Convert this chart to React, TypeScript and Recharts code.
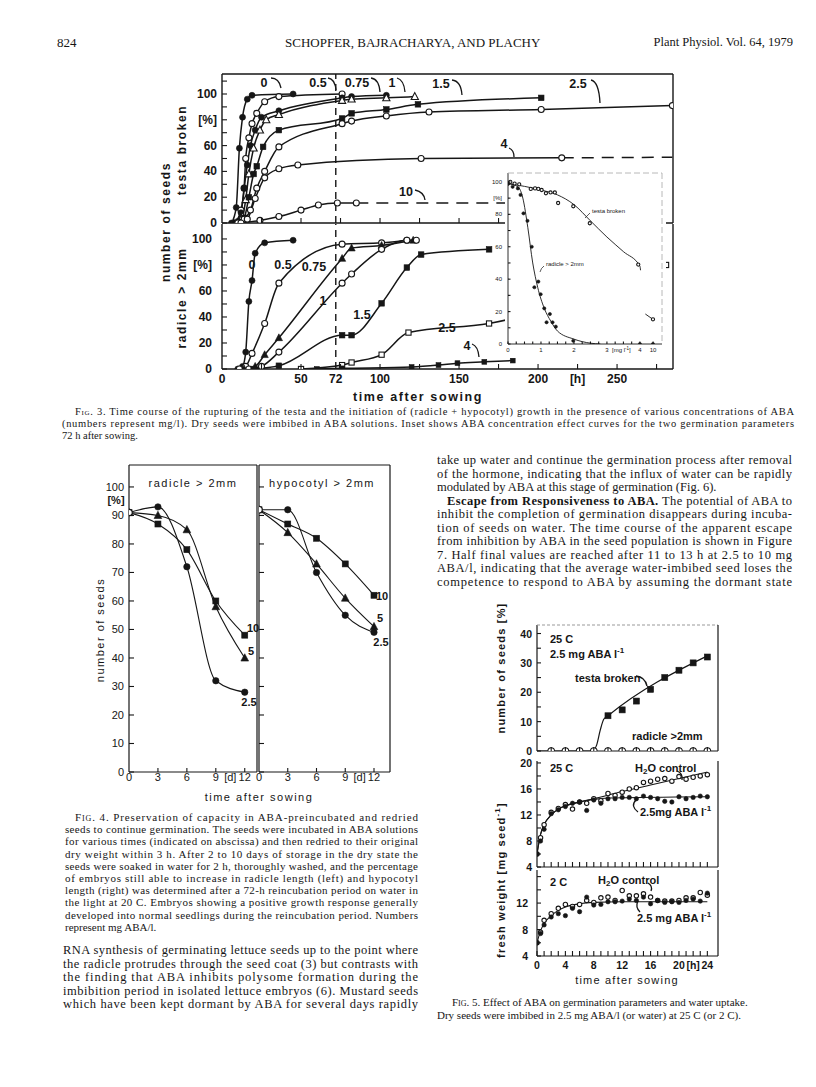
import React from 'react';
import { LineChart, Line, XAxis, YAxis, ReferenceLine } from 'recharts';

const INK = '#161616';
const SERIF = '"Liberation Serif", "Times New Roman", serif';
const SANS = '"Liberation Sans", "DejaVu Sans", sans-serif';

type Pt = [number, number];
const xy = (a: Pt[]) => a.map(([x, y]) => ({ x, y }));
const range = (a: number, b: number, s: number) => {
  const out: number[] = [];
  for (let v = a; v <= b + 1e-9; v += s) out.push(Math.round(v * 100) / 100);
  return out;
};

// Fig. 3 upper panel: testa broken [%] vs hours after sowing, per mg ABA/l
const testa0: Pt[] = [[6, 0], [9, 12], [11, 58], [13, 82], [16, 96], [19, 99], [45, 100]];
const testa05: Pt[] = [[8, 0], [12, 10], [14, 27], [15, 50], [17, 66], [19, 77], [22, 85], [27, 94], [36, 98], [76, 100]];
const testa075: Pt[] = [[8, 0], [12, 8], [14, 27], [16, 45], [18, 60], [21, 72], [25, 82], [36, 87], [76, 97], [82, 98], [104, 99]];
const testa1: Pt[] = [[9, 0], [13, 5], [15, 18], [17, 38], [20, 58], [24, 72], [28, 80], [36, 84], [76, 95], [82, 96], [104, 97], [122, 98]];
const testa15: Pt[] = [[9, 0], [14, 4], [17, 20], [20, 38], [22, 44], [26, 59], [36, 72], [76, 81], [82, 85], [104, 88], [124, 92], [202, 97]];
const testa25: Pt[] = [[10, 0], [14, 3], [18, 10], [22, 27], [27, 40], [36, 59], [76, 77], [82, 79], [104, 83], [131, 86], [202, 88], [285, 91]];
const testa4: Pt[] = [[10, 0], [16, 3], [21, 19], [27, 35], [36, 42], [48, 45], [126, 50], [215, 50.5]];
const testa4Tail: Pt[] = [[215, 50.5], [285, 51]];
const testa10: Pt[] = [[12, 0], [24, 2], [36, 5], [50, 10], [61, 14], [73, 15.5], [85, 15.5]];
const testa10Tail: Pt[] = [[85, 15.5], [180, 15.5]];

// Fig. 3 lower panel: radicle > 2mm [%]
const rad0: Pt[] = [[10, 0], [13, 2], [15, 13], [17, 52], [19, 68], [21, 89], [27, 97], [45, 99]];
const rad05: Pt[] = [[11, 0], [15, 2], [19, 12], [27, 35], [36, 66], [76, 96], [101, 97], [117, 99]];
const rad075: Pt[] = [[14, 0], [21, 2], [27, 11], [36, 24], [76, 85], [82, 93], [101, 95], [121, 99]];
const rad1: Pt[] = [[17, 0], [25, 2], [36, 13], [76, 66], [82, 73], [101, 92], [117, 99], [123, 99]];
const rad15: Pt[] = [[20, 0], [36, 2.5], [76, 26], [82, 26], [101, 50.5], [117, 78], [126, 88], [169, 92]];
const rad25: Pt[] = [[50, 0], [76, 3], [82, 5], [101, 11], [118, 28], [169, 35], [281, 80]];
const rad4: Pt[] = [[60, 0], [76, 0.5], [120, 1.5], [137, 3], [149, 4.5], [166, 5.5], [184, 6.5]];

// Fig. 3 inset: % at 72 h vs mg ABA/l (axis broken between 4 and 10)
const insetTestaPts: Pt[] = [[0, 99], [0.07, 100], [0.2, 99], [0.34, 98.5], [0.69, 95.7], [0.82, 96], [0.92, 95.7], [1.02, 95], [1.15, 93], [1.29, 93.5], [1.42, 93.5], [1.52, 87], [1.98, 85], [2.48, 74.5], [3.95, 49], [10, 15.2]];
const insetTestaFit: Pt[] = [[0, 99], [1, 95], [1.5, 92], [2, 86], [2.5, 76], [3, 66], [3.5, 57], [4, 48], [4.3, 45.5]];
const insetTestaTail: Pt[] = [[6.5, 18.5], [10, 15.2]];
const insetRadPts: Pt[] = [[0, 99], [0.14, 97], [0.3, 96], [0.38, 92], [0.47, 80.6], [0.59, 76], [0.72, 60], [0.8, 35], [0.92, 38.5], [0.99, 30.7], [1.1, 22], [1.17, 13.4], [1.27, 18.5], [1.35, 13.4], [1.45, 10.7], [1.98, 2], [4, 0], [10, 0]];
const insetRadFit: Pt[] = [[0, 99], [0.3, 97], [0.45, 90], [0.6, 72], [0.75, 50], [0.9, 35], [1.1, 22], [1.3, 14], [1.5, 8], [2, 3], [2.5, 0.5], [2.8, 0]];
const brk = (c: number) => (c <= 4 ? c : 4 + (c - 4) * 0.066);
const brkPts = (a: Pt[]): Pt[] => a.map(([c, v]) => [brk(c), v]);

// Fig. 4: days of ABA preincubation vs % seeds
const radicle25: Pt[] = [[0, 91], [3, 93], [6, 72], [9, 32], [12, 28]];
const radicle5: Pt[] = [[0, 91], [3, 90], [6, 85], [9, 58], [12, 40]];
const radicle10: Pt[] = [[0, 91], [3, 87], [6, 78], [9, 60], [12, 48]];
const hypo25: Pt[] = [[0, 92], [3, 92], [6, 70], [9, 55], [12, 49]];
const hypo5: Pt[] = [[0, 92], [3, 84], [6, 73], [9, 61], [12, 51]];
const hypo10: Pt[] = [[0, 92], [3, 87], [6, 82], [9, 73], [12, 62]];

// Fig. 5 top: % seeds, 2.5 mg ABA/l, 25 C
const f5Testa: Pt[] = [[10, 12], [12, 14], [14, 17], [16, 21], [18, 25], [20, 27.5], [22, 30], [24, 32]];
const f5TestaFit: Pt[] = [[0, 0], [7.8, 0], [8.4, 2], [8.9, 7], [9.4, 10.8], [10, 12], [24, 32.4]];
const f5Radicle: Pt[] = [[2, 0], [4, 0], [6, 0], [8, 0], [10, 0], [12, 0], [14, 0], [16, 0], [18, 0], [20, 0], [22, 0], [24, 0]];

// Fig. 5 middle: fresh weight, 25 C
const w25H2O: Pt[] = [[0, 6], [0.5, 8.5], [1, 10.5], [2, 12.4], [3, 13], [4, 13.6], [5, 12.9], [6, 14], [7, 13.8], [8, 14.5], [9, 14.2], [10, 15.3], [11, 15], [12, 15.5], [13, 16], [14, 16.2], [15, 17], [16, 17.2], [17, 17.5], [18, 17.6], [19, 17.2], [20, 17.9], [21, 17.5], [22, 17.8], [23, 18], [24, 18.2]];
const w25ABA: Pt[] = [[0, 6], [0.5, 8], [1, 9.8], [2, 12.2], [3, 12.8], [4, 13.3], [5, 13.8], [6, 14], [7, 12.7], [8, 14.3], [9, 13.8], [10, 14.5], [11, 14.5], [12, 14.7], [13, 14.7], [14, 14.5], [15, 14.9], [16, 14.7], [17, 14.5], [18, 14.1], [19, 14], [20, 14.8], [21, 14.5], [22, 14.7], [23, 14.9], [24, 14.8]];
const w25H2OFit: Pt[] = [[0, 6], [0.5, 9], [1, 10.5], [2, 12], [3, 12.9], [4, 13.4], [6, 14], [8, 14.5], [12, 15.6], [16, 16.6], [20, 17.6], [24, 18.6]];
const w25ABAFit: Pt[] = [[0, 6], [0.5, 9], [1, 10.5], [2, 12], [3, 12.9], [4, 13.4], [6, 14], [8, 14.4], [10, 14.6], [24, 14.8]];

// Fig. 5 bottom: fresh weight, 2 C
const w2H2O: Pt[] = [[0, 6], [0.5, 7.6], [1, 9.4], [2, 10.4], [3, 11.2], [4, 11.8], [5, 11.5], [6, 11.8], [7, 12.4], [8, 12.1], [9, 12.8], [10, 12.9], [11, 12.4], [12, 13.9], [13, 13.1], [14, 13.1], [15, 13.4], [16, 12.9], [17, 12.4], [18, 12.3], [19, 12.3], [20, 12.4], [21, 12.8], [22, 12.8], [23, 13.6], [24, 13.2]];
const w2ABA: Pt[] = [[0, 6], [0.5, 7.4], [1, 8.7], [2, 9.9], [3, 10.4], [4, 10.1], [5, 11.2], [6, 10.7], [7, 12.9], [8, 11.7], [9, 11.8], [10, 12.2], [11, 12.2], [12, 12.3], [13, 12.6], [14, 12.4], [15, 12.9], [16, 11.9], [17, 12.4], [18, 12.1], [19, 12.2], [20, 12.1], [21, 12.4], [22, 12.6], [23, 12.3], [24, 13.5]];
const w2Fit: Pt[] = [[0, 6], [0.5, 7.8], [1, 8.9], [2, 10.1], [3, 10.9], [4, 11.4], [6, 11.9], [8, 12.1], [12, 12.2], [24, 12.2]];

// text of the page
const fig3Caption = [
  'Time course of the rupturing of the testa and the initiation of (radicle + hypocotyl) growth in the presence of various concentrations of ABA',
  '(numbers represent mg/l). Dry seeds were imbibed in ABA solutions. Inset shows ABA concentration effect curves for the two germination parameters',
  '72 h after sowing.',
];
const fig4Caption = [
  'Preservation of capacity in ABA-preincubated and redried',
  'seeds to continue germination. The seeds were incubated in ABA solutions',
  'for various times (indicated on abscissa) and then redried to their original',
  'dry weight within 3 h. After 2 to 10 days of storage in the dry state the',
  'seeds were soaked in water for 2 h, thoroughly washed, and the percentage',
  'of embryos still able to increase in radicle length (left) and hypocotyl',
  'length (right) was determined after a 72-h reincubation period on water in',
  'the light at 20 C. Embryos showing a positive growth response generally',
  'developed into normal seedlings during the reincubation period. Numbers',
  'represent mg ABA/l.',
];
const leftBody = [
  'RNA synthesis of germinating lettuce seeds up to the point where',
  'the radicle protrudes through the seed coat (3) but contrasts with',
  'the finding that ABA inhibits polysome formation during the',
  'imbibition period in isolated lettuce embryos (6). Mustard seeds',
  'which have been kept dormant by ABA for several days rapidly',
];
const rightBody = [
  'take up water and continue the germination process after removal',
  'of the hormone, indicating that the influx of water can be rapidly',
  'modulated by ABA at this stage of germination (Fig. 6).',
  ' The potential of ABA to',
  'inhibit the completion of germination disappears during incuba-',
  'tion of seeds on water. The time course of the apparent escape',
  'from inhibition by ABA in the seed population is shown in Figure',
  '7. Half final values are reached after 11 to 13 h at 2.5 to 10 mg',
  'ABA/l, indicating that the average water-imbibed seed loses the',
  'competence to respond to ABA by assuming the dormant state',
];
const fig5Caption = [
  'Effect of ABA on germination parameters and water uptake.',
  'Dry seeds were imbibed in 2.5 mg ABA/l (or water) at 25 C (or 2 C).',
];

// ---------------------------------------------------------------------------

const dot = (shape: string, r: number) => (p: any) => {
  const { cx, cy, index } = p;
  const k = `${shape}-${index}`;
  if (cx == null || cy == null || isNaN(cx) || isNaN(cy)) return <g key={k} />;
  const filled = shape[0] === 'f';
  const st = { fill: filled ? INK : '#fff', stroke: INK, strokeWidth: filled ? 0.6 : 1.1 };
  if (shape[1] === 'c') return <circle key={k} cx={cx} cy={cy} r={r} {...st} />;
  if (shape[1] === 's') return <rect key={k} x={cx - r} y={cy - r} width={2 * r} height={2 * r} {...st} />;
  const h = r * 1.2;
  return <polygon key={k} points={`${cx},${cy - h * 1.1} ${cx - h},${cy + h * 0.8} ${cx + h},${cy + h * 0.8}`} {...st} />;
};

type Opt = { shape?: string; r?: number; w?: number; dash?: string; line?: boolean; type?: string; color?: string };
const S = (key: string, data: Pt[], o: Opt = {}) => (
  <Line
    key={key}
    data={xy(data)}
    dataKey="y"
    type={(o.type as any) ?? 'monotone'}
    stroke={o.line === false ? 'none' : o.color ?? INK}
    strokeWidth={o.w ?? 1.5}
    strokeDasharray={o.dash}
    dot={o.shape ? dot(o.shape, o.r ?? 3) : false}
    activeDot={false}
    isAnimationActive={false}
  />
);

type Box = { x0: number; x1: number; y0: number; y1: number };
type Ax = { domain: [number, number]; ticks: number[]; labels?: Record<string, string>; marks?: number[]; len: number };
type Fnt = { size: number; weight: any; gap: number };

const xTick = (a: Ax, f: Fnt) => (p: any) => {
  const v = p.payload.value;
  const lab = a.labels ? a.labels[String(v)] : undefined;
  const mark = a.marks ? a.marks.includes(v) : true;
  return (
    <g key={`xt-${v}`}>
      {mark && a.len > 0 && <line x1={p.x} x2={p.x} y1={p.y} y2={p.y - a.len} stroke={INK} strokeWidth={1.1} />}
      {lab && (
        <text x={p.x} y={p.y + f.gap} textAnchor="middle" dominantBaseline="central" fontSize={f.size} fontWeight={f.weight} fontFamily={SANS} fill={INK}>
          {lab}
        </text>
      )}
    </g>
  );
};

const yTick = (a: Ax, f: Fnt) => (p: any) => {
  const v = p.payload.value;
  const lab = a.labels ? a.labels[String(v)] : undefined;
  const mark = a.marks ? a.marks.includes(v) : true;
  return (
    <g key={`yt-${v}`}>
      {mark && a.len > 0 && <line x1={p.x} x2={p.x + a.len} y1={p.y} y2={p.y} stroke={INK} strokeWidth={1.1} />}
      {lab && (
        <text x={p.x - f.gap} y={p.y} textAnchor="end" dominantBaseline="central" fontSize={f.size} fontWeight={f.weight} fontFamily={SANS} fill={INK}>
          {lab}
        </text>
      )}
    </g>
  );
};

function Panel(props: { box: Box; x: Ax; y: Ax; font: Fnt; top?: string | null; right?: string | null; frameDash?: string; lw?: number; children?: any }) {
  const { box, x, y, font, lw = 1.4 } = props;
  const top = props.top === undefined ? INK : props.top;
  const right = props.right === undefined ? INK : props.right;
  // plot area sits 40px from the left, 6px from top/right and 26px from the bottom of the svg
  const m = { top: 5, right: 5, bottom: 6, left: 6 };
  const W = box.x1 - box.x0 + 46;
  const H = box.y1 - box.y0 + 32;
  const frame = (c: string | null) => (c ? { stroke: c, strokeWidth: lw, strokeDasharray: c === INK ? undefined : props.frameDash } : false);
  return (
    <div style={{ position: 'absolute', left: box.x0 - 40, top: box.y0 - 6 }}>
      <LineChart width={W} height={H} margin={m}>
        <XAxis type="number" dataKey="x" domain={x.domain} ticks={x.ticks} interval={0} allowDataOverflow height={20} tickSize={0} tickMargin={0} tickLine={false} axisLine={{ stroke: INK, strokeWidth: lw }} tick={xTick(x, font)} />
        <YAxis type="number" domain={y.domain} ticks={y.ticks} interval={0} allowDataOverflow width={34} tickSize={0} tickMargin={0} tickLine={false} axisLine={{ stroke: INK, strokeWidth: lw }} tick={yTick(y, font)} />
        <XAxis xAxisId="top" orientation="top" type="number" domain={x.domain} allowDataOverflow height={1} tick={false} tickLine={false} axisLine={frame(top) as any} />
        <YAxis yAxisId="right" orientation="right" type="number" domain={y.domain} allowDataOverflow width={1} tick={false} tickLine={false} axisLine={frame(right) as any} />
        {props.children}
      </LineChart>
    </div>
  );
}

const T = (p: { x: number; y: number; s: number; w?: any; a?: string; ls?: number; rot?: boolean; f?: string; children: any }) => (
  <text
    x={p.x}
    y={p.y}
    fontSize={p.s}
    fontWeight={p.w ?? 'bold'}
    textAnchor={(p.a as any) ?? 'start'}
    letterSpacing={p.ls ?? 0}
    fontFamily={p.f ?? SANS}
    fill={INK}
    dominantBaseline="central"
    transform={p.rot ? `rotate(-90 ${p.x} ${p.y})` : undefined}
  >
    {p.children}
  </text>
);

const Hook = ({ d }: { d: string }) => <path d={d} fill="none" stroke={INK} strokeWidth={1.3} />;

const Para = (p: { x: number; w: number; y0: number; lh: number; s: number; lines: any[]; last?: boolean }) => (
  <>
    {p.lines.map((l, i) => {
      const just = i < p.lines.length - 1 || p.last;
      return (
        <text
          key={i}
          x={p.x}
          y={p.y0 + i * p.lh}
          fontSize={p.s}
          fontFamily={SERIF}
          fill={INK}
          dominantBaseline="central"
          textLength={just ? p.w : undefined}
          lengthAdjust="spacing"
        >
          {l}
        </text>
      );
    })}
  </>
);

const F3 = { size: 12, weight: 'bold', gap: 10 };
const F3y = { size: 12, weight: 'bold', gap: 5 };

export default function App() {
  const h3 = 285.4;
  const f3x: Ax = { domain: [0, h3], ticks: range(25, 275, 25), len: 5 };
  const f3xb: Ax = {
    domain: [0, h3],
    ticks: [0, 25, 50, 72, 75, 100, 125, 150, 175, 200, 225, 250, 275],
    marks: [25, 50, 75, 100, 125, 150, 175, 200, 225, 250, 275],
    labels: { '0': '0', '50': '50', '72': '72', '100': '100', '150': '150', '200': '200', '225': '[h]', '250': '250' },
    len: 5,
  };
  const pctLab = { '0': '0', '20': '20', '40': '40', '60': '60', '80': '[%]', '100': '100' };

  const f4x = (max: number): Ax => ({
    domain: [0, max],
    ticks: [0, 3, 6, 9, 10.5, 12],
    marks: [3, 6, 9, 12],
    labels: { '0': '0', '3': '3', '6': '6', '9': '9', '10.5': '[d]', '12': '12' },
    len: 4,
  });
  const f4yTicks = range(0, 100, 10);
  const f4yLab: Record<string, string> = {};
  f4yTicks.forEach((v) => (f4yLab[String(v)] = String(v)));
  const F4y = { size: 11, weight: 'normal', gap: 5 };
  const F5 = { size: 10.5, weight: 'bold', gap: 9 };
  const F5y = { size: 10.5, weight: 'bold', gap: 5 };

  return (
    <div style={{ position: 'absolute', left: 0, top: 0, width: 816, height: 1087, background: '#fff', overflow: 'hidden' }}>
      {/* Fig. 3 upper panel */}
      <Panel box={{ x0: 222, x1: 673, y0: 74, y1: 223 }} x={f3x} y={{ domain: [0, 115.5], ticks: range(0, 110, 10), labels: pctLab, len: 5 }} font={F3y}>
        <ReferenceLine x={72} stroke={INK} strokeWidth={1.4} strokeDasharray="7 5" />
        {S('t0', testa0, { shape: 'fc' })}
        {S('t05', testa05, { shape: 'oc' })}
        {S('t075', testa075, { shape: 'fc' })}
        {S('t1', testa1, { shape: 'ot' })}
        {S('t15', testa15, { shape: 'fs', r: 2.8 })}
        {S('t25', testa25, { shape: 'oc' })}
        {S('t4', testa4, { shape: 'oc' })}
        {S('t4d', testa4Tail, { dash: '12 8', type: 'linear' })}
        {S('t10', testa10, { shape: 'oc' })}
        {S('t10d', testa10Tail, { dash: '12 8', type: 'linear' })}
      </Panel>

      {/* Fig. 3 lower panel */}
      <Panel box={{ x0: 222, x1: 673, y0: 224, y1: 369 }} x={f3xb} y={{ domain: [0, 111.5], ticks: range(0, 100, 10), labels: pctLab, len: 5 }} font={F3} top={null}>
        <ReferenceLine x={72} stroke={INK} strokeWidth={1.4} strokeDasharray="7 5" />
        {S('r0', rad0, { shape: 'fc' })}
        {S('r05', rad05, { shape: 'oc' })}
        {S('r075', rad075, { shape: 'ft' })}
        {S('r1', rad1, { shape: 'oc' })}
        {S('r15', rad15, { shape: 'fs', r: 2.8 })}
        {S('r25', rad25, { shape: 'os', r: 2.6 })}
        {S('r4', rad4, { shape: 'fs', r: 2.4 })}
      </Panel>

      {/* inset */}
      <div style={{ position: 'absolute', left: 505, top: 170, width: 161, height: 188, background: '#fff' }} />
      <Panel
        box={{ x0: 508, x1: 662, y0: 173, y1: 344 }}
        x={{ domain: [0, 4.67], ticks: [...range(0, 4, 0.25), 4.4], labels: { '0': '0', '1': '1', '2': '2', '3': '3', '4': '4', '4.4': '10' }, len: 2.5 }}
        y={{ domain: [0, 105.5], ticks: range(0, 100, 10), labels: { '0': '0', '20': '20', '40': '40', '60': '60', '80': '80', '90': '[%]', '100': '100' }, len: 2.5 }}
        font={{ size: 6, weight: 'normal', gap: 6 }}
        top="#b0b0b0"
        right="#b0b0b0"
        frameDash="6 3"
        lw={0.9}
      >
        {S('itf', brkPts(insetTestaFit), { w: 0.9 })}
        {S('itt', brkPts(insetTestaTail), { w: 0.9, type: 'linear' })}
        {S('itp', brkPts(insetTestaPts), { shape: 'oc', r: 1.6, line: false })}
        {S('irf', brkPts(insetRadFit), { w: 0.9 })}
        {S('irp', brkPts(insetRadPts), { shape: 'fc', r: 1.6, line: false })}
      </Panel>

      {/* Fig. 4 */}
      <Panel box={{ x0: 129, x1: 257, y0: 465, y1: 772 }} x={f4x(13.27)} y={{ domain: [0, 107.7], ticks: f4yTicks, labels: f4yLab, len: 5 }} font={F4y} lw={1.2}>
        {S('a25', radicle25, { shape: 'fc', r: 3.2, w: 1.1 })}
        {S('a5', radicle5, { shape: 'ft', r: 3.2, w: 1.1 })}
        {S('a10', radicle10, { shape: 'fs', r: 3, w: 1.1 })}
        {S('a0', [[0, 91]], { shape: 'oc', r: 3.2, line: false })}
      </Panel>
      <Panel box={{ x0: 259, x1: 390, y0: 465, y1: 772 }} x={f4x(13.67)} y={{ domain: [0, 107.7], ticks: f4yTicks, len: 5 }} font={F4y} lw={1.2}>
        {S('b25', hypo25, { shape: 'fc', r: 3.2, w: 1.1 })}
        {S('b5', hypo5, { shape: 'ft', r: 3.2, w: 1.1 })}
        {S('b10', hypo10, { shape: 'fs', r: 3, w: 1.1 })}
        {S('b0', [[0, 92]], { shape: 'oc', r: 3.2, line: false })}
      </Panel>

      {/* Fig. 5 */}
      <Panel
        box={{ x0: 537, x1: 718, y0: 625, y1: 751 }}
        x={{ domain: [0, 25.5], ticks: range(2, 24, 2), len: 4 }}
        y={{ domain: [0, 42.9], ticks: range(0, 40, 5), labels: { '0': '0', '10': '10', '20': '20', '30': '30', '40': '40' }, len: 4 }}
        font={F5y}
        top="#9a9a9a"
        frameDash="3 2"
        lw={1.2}
      >
        {S('ftf', f5TestaFit, { w: 1.2 })}
        {S('ftp', f5Testa, { shape: 'fs', r: 3, line: false })}
        {S('frp', f5Radicle, { shape: 'oc', r: 3.3, line: false })}
      </Panel>
      <Panel
        box={{ x0: 537, x1: 718, y0: 761, y1: 867 }}
        x={{ domain: [0, 25.5], ticks: range(1, 24, 1), len: 5 }}
        y={{ domain: [4, 20.3], ticks: range(4, 20, 2), labels: { '4': '4', '8': '8', '12': '12', '16': '16', '20': '20' }, len: 4 }}
        font={F5y}
        top={null}
        lw={1.2}
      >
        {S('mhf', w25H2OFit, { w: 1.1 })}
        {S('maf', w25ABAFit, { w: 1.1 })}
        {S('mhp', w25H2O, { shape: 'oc', r: 2.2, line: false })}
        {S('map', w25ABA, { shape: 'fc', r: 2.2, line: false })}
      </Panel>
      <Panel
        box={{ x0: 537, x1: 718, y0: 870, y1: 956 }}
        x={{ domain: [0, 25.5], ticks: range(0, 24, 1), labels: { '0': '0', '4': '4', '8': '8', '12': '12', '16': '16', '20': '20', '22': '[h]', '24': '24' }, len: 5 }}
        y={{ domain: [4, 17], ticks: range(4, 16, 2), labels: { '4': '4', '8': '8', '12': '12' }, len: 4 }}
        font={F5}
        top={null}
        lw={1.2}
      >
        {S('lf', w2Fit, { w: 1.1 })}
        {S('lhp', w2H2O, { shape: 'oc', r: 2.2, line: false })}
        {S('lap', w2ABA, { shape: 'fc', r: 2.2, line: false })}
      </Panel>

      {/* text and annotations */}
      <svg width={816} height={1087} style={{ position: 'absolute', left: 0, top: 0, pointerEvents: 'none' }}>
        {/* running head */}
        <T x={57} y={42} s={13} w="normal" f={SERIF}>824</T>
        <T x={285} y={42} s={13} w="normal" f={SERIF}>SCHOPFER, BAJRACHARYA, AND PLACHY</T>
        <T x={793} y={42} s={12.5} w="normal" f={SERIF} a="end">Plant Physiol. Vol. 64, 1979</T>

        {/* Fig. 3 labels */}
        <T x={264} y={83} s={12.5} a="middle">0</T>
        <Hook d="M 271 78 Q 279 78 281 88" />
        <T x={318} y={83} s={12.5} a="middle">0.5</T>
        <Hook d="M 328 78 Q 335 79 336 90" />
        <T x={357} y={83} s={12.5} a="middle">0.75</T>
        <Hook d="M 371 78 Q 379 79 380 92" />
        <T x={392} y={83} s={12.5} a="middle">1</T>
        <Hook d="M 397 78 Q 404 80 405 92" />
        <T x={441} y={84} s={12.5} a="middle">1.5</T>
        <Hook d="M 452 80 Q 461 81 462 95" />
        <T x={578} y={84} s={12.5} a="middle">2.5</T>
        <Hook d="M 591 80 Q 599 82 600 103" />
        <T x={504} y={144} s={12.5} a="middle">4</T>
        <Hook d="M 509 148 Q 514 150 514 157" />
        <T x={406} y={192} s={12.5} a="middle">10</T>
        <Hook d="M 415 190 Q 424 192 425 200" />

        <T x={252} y={265} s={12.5} a="middle">0</T>
        <T x={283} y={265} s={12.5} a="middle">0.5</T>
        <T x={314} y={267} s={12.5} a="middle">0.75</T>
        <T x={323} y={301} s={12.5} a="middle">1</T>
        <T x={362} y={315} s={12.5} a="middle">1.5</T>
        <T x={447} y={328} s={12.5} a="middle">2.5</T>
        <T x={467} y={346} s={12.5} a="middle">4</T>
        <Hook d="M 472 344 Q 478 346 479 357" />

        <T x={166} y={222} s={12} a="middle" ls={1.6} rot>number of seeds</T>
        <T x={182} y={150} s={12} a="middle" ls={1.6} rot>testa broken</T>
        <T x={182} y={298} s={12} a="middle" ls={1.6} rot>{'radicle > 2mm'}</T>
        <T x={418} y={397} s={12.5} a="middle" ls={1.6}>time after sowing</T>

        {/* inset labels */}
        <T x={592} y={211} s={6} w="normal">testa broken</T>
        <path d="M 590 213 L 585 218" stroke={INK} strokeWidth={0.7} />
        <T x={546} y={264} s={6} w="normal">{'radicle > 2mm'}</T>
        <path d="M 544 266 Q 541 268 540 272" fill="none" stroke={INK} strokeWidth={0.7} />
        <T x={612} y={350} s={6} w="normal">
          [mg l<tspan dy={-2} fontSize={4.5}>-1</tspan>
          <tspan dy={2}>]</tspan>
        </T>

        {/* Fig. 4 labels */}
        <T x={193} y={483} s={11} w="normal" a="middle" ls={1.5}>{'radicle > 2mm'}</T>
        <T x={322} y={483} s={11} w="normal" a="middle" ls={1.5}>{'hypocotyl > 2mm'}</T>
        <T x={253} y={628} s={11} a="middle">10</T>
        <T x={251} y={651} s={11} a="middle">5</T>
        <T x={249} y={702} s={11} a="middle">2.5</T>
        <T x={382} y={596} s={11} a="middle">10</T>
        <T x={380} y={618} s={11} a="middle">5</T>
        <T x={381} y={642} s={11} a="middle">2.5</T>
        <T x={100} y={630} s={11} w="normal" a="middle" ls={1.5} rot>number of seeds</T>
        <T x={116} y={500} s={11} a="middle">[%]</T>
        <T x={259} y={797} s={11} w="normal" a="middle" ls={1.5}>time after sowing</T>

        {/* Fig. 5 labels */}
        <T x={550} y={639} s={11}>25 C</T>
        <T x={550} y={654} s={11}>
          2.5 mg ABA l<tspan dy={-4} fontSize={8}>-1</tspan>
        </T>
        <T x={575} y={678} s={11}>testa broken</T>
        <Hook d="M 636 676 Q 645 677 647 686" />
        <T x={632} y={736} s={11}>{'radicle >2mm'}</T>
        <T x={501} y={668} s={11} a="middle" ls={1.2} rot>number of seeds [%]</T>

        <T x={550} y={768} s={11}>25 C</T>
        <T x={635} y={768} s={11}>
          H<tspan dy={3} fontSize={8}>2</tspan>
          <tspan dy={-3}>O control</tspan>
        </T>
        <Hook d="M 677 771 Q 683 773 682 780" />
        <T x={640} y={812} s={11}>
          2.5mg ABA l<tspan dy={-4} fontSize={8}>-1</tspan>
        </T>
        <Hook d="M 636 800 Q 630 806 638 812" />

        <T x={550} y={882} s={11}>2 C</T>
        <T x={598} y={880} s={11}>
          H<tspan dy={3} fontSize={8}>2</tspan>
          <tspan dy={-3}>O control</tspan>
        </T>
        <Hook d="M 648 883 Q 653 886 651 891" />
        <T x={637} y={918} s={11}>
          2.5 mg ABA l<tspan dy={-4} fontSize={8}>-1</tspan>
        </T>
        <Hook d="M 640 912 Q 635 907 638 901" />
        <T x={501} y={880} s={11} a="middle" ls={1.2} rot>
          fresh weight [mg seed<tspan dy={-4} fontSize={8}>-1</tspan>
          <tspan dy={4}>]</tspan>
        </T>
        <T x={627} y={980} s={11} w="normal" a="middle" ls={1.2}>time after sowing</T>

        {/* captions and body text */}
        <text x={75} y={411} fontSize={10.5} fontFamily={SERIF} fill={INK} dominantBaseline="central" textLength={719} lengthAdjust="spacing">
          <tspan fontVariant="small-caps">Fig.</tspan> 3. {fig3Caption[0]}
        </text>
        <Para x={62} w={732} y0={423} lh={12} s={10.5} lines={fig3Caption.slice(1)} />

        <text x={75} y={817} fontSize={11} fontFamily={SERIF} fill={INK} dominantBaseline="central" textLength={343} lengthAdjust="spacing">
          <tspan fontVariant="small-caps">Fig.</tspan> 4. {fig4Caption[0]}
        </text>
        <Para x={65} w={353} y0={829.2} lh={12.2} s={11} lines={fig4Caption.slice(1)} />

        <Para x={63} w={355} y0={950} lh={13.5} s={12.5} lines={leftBody} last />

        <Para x={437} w={355} y0={460} lh={13.5} s={12.5} lines={rightBody.slice(0, 3)} />
        <text x={447} y={460 + 3 * 13.5} fontSize={12.5} fontFamily={SERIF} fill={INK} dominantBaseline="central" textLength={345} lengthAdjust="spacing">
          <tspan fontWeight="bold">Escape from Responsiveness to ABA.</tspan>
          {rightBody[3]}
        </text>
        <Para x={437} w={355} y0={460 + 4 * 13.5} lh={13.5} s={12.5} lines={rightBody.slice(4)} last />

        <text x={452} y={1002} fontSize={11} fontFamily={SERIF} fill={INK} dominantBaseline="central">
          <tspan fontVariant="small-caps">Fig.</tspan> 5. {fig5Caption[0]}
        </text>
        <text x={437} y={1015} fontSize={11} fontFamily={SERIF} fill={INK} dominantBaseline="central">
          {fig5Caption[1]}
        </text>
      </svg>
    </div>
  );
}
